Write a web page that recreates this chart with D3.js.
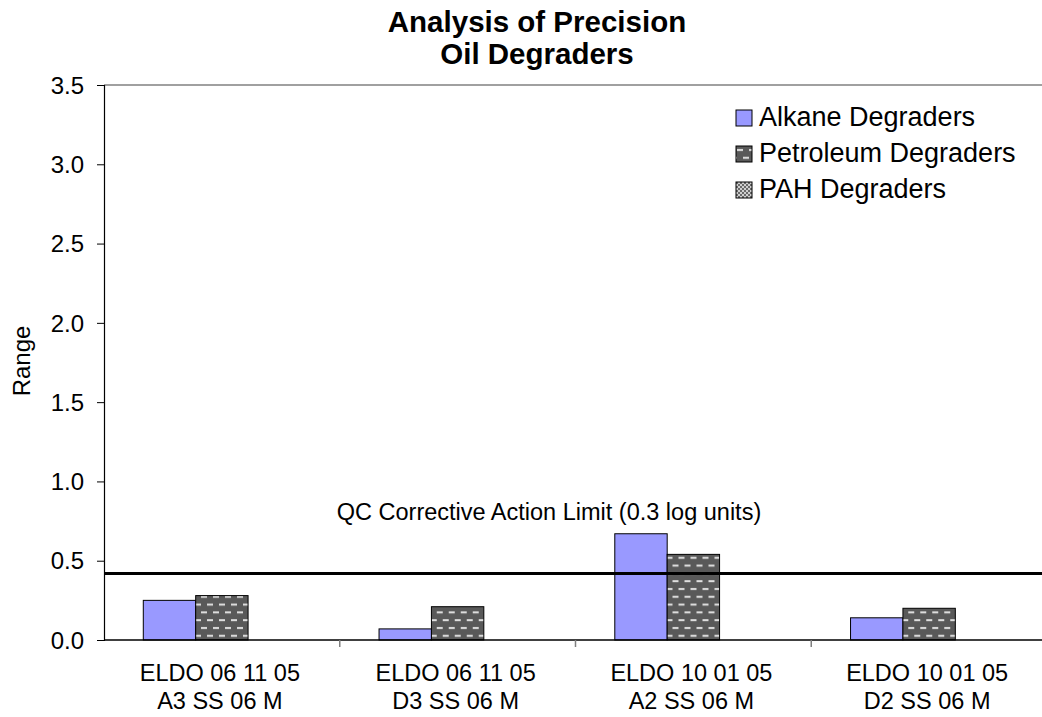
<!DOCTYPE html>
<html>
<head>
<meta charset="utf-8">
<script src="https://cdn.jsdelivr.net/npm/d3@7"></script>
<style>
  html, body { margin: 0; padding: 0; background: #fff; }
  svg { display: block; font-family: "Liberation Sans", Arial, sans-serif; }
</style>
</head>
<body>
<svg id="chart" width="1042" height="717"></svg>
<script>
// Sample categories (two label lines each)
const categories = [
  ["ELDO 06 11 05", "A3 SS 06 M"],
  ["ELDO 06 11 05", "D3 SS 06 M"],
  ["ELDO 10 01 05", "A2 SS 06 M"],
  ["ELDO 10 01 05", "D2 SS 06 M"]
];
const seriesNames = ["Alkane Degraders", "Petroleum Degraders", "PAH Degraders"];
const alkane = [0.25, 0.07, 0.67, 0.14];
const petroleum = [0.28, 0.21, 0.54, 0.20];
const pah = [0, 0, 0, 0];
const yTicks = [0, 0.5, 1.0, 1.5, 2.0, 2.5, 3.0, 3.5];
const limitValue = 0.42;
const limitLabel = "QC Corrective Action Limit (0.3 log units)";

const FONT = "Liberation Sans, Arial, sans-serif";
const svg = d3.select("#chart");
const plot = { left: 104, top: 85, right: 1047, bottom: 640 };

const x0 = d3.scaleBand()
  .domain(d3.range(categories.length))
  .range([plot.left, plot.right])
  .paddingInner(0).paddingOuter(0);
// gap width 150%: three bars plus 1.5 bar-widths of gap per category
const x1 = d3.scaleBand()
  .domain(d3.range(seriesNames.length))
  .range([0, x0.bandwidth()])
  .paddingInner(0)
  .paddingOuter(0.75);
const y = d3.scaleLinear().domain([0, 3.5]).range([plot.bottom, plot.top]);

// Fill patterns
const defs = svg.append("defs");
const pDash = defs.append("pattern")
  .attr("id", "dashes").attr("patternUnits", "userSpaceOnUse")
  .attr("width", 12).attr("height", 15.6);
pDash.append("rect").attr("width", 12).attr("height", 15.6).attr("fill", "#595959");
pDash.append("rect").attr("x", 1).attr("y", 3).attr("width", 6).attr("height", 2).attr("fill", "#e0e0e0");
pDash.append("rect").attr("x", 7).attr("y", 10.8).attr("width", 6).attr("height", 2).attr("fill", "#e0e0e0");
pDash.append("rect").attr("x", -5).attr("y", 10.8).attr("width", 6).attr("height", 2).attr("fill", "#e0e0e0");

const pCheck = defs.append("pattern")
  .attr("id", "checks").attr("patternUnits", "userSpaceOnUse")
  .attr("width", 4).attr("height", 4);
pCheck.append("rect").attr("width", 4).attr("height", 4).attr("fill", "#cfcfcf");
pCheck.append("rect").attr("width", 2).attr("height", 2).attr("fill", "#6a6a6a");
pCheck.append("rect").attr("x", 2).attr("y", 2).attr("width", 2).attr("height", 2).attr("fill", "#6a6a6a");

const fills = ["#9999ff", "url(#dashes)", "url(#checks)"];
const seriesValues = [alkane, petroleum, pah];

// Top border of the plot area
svg.append("line")
  .attr("x1", plot.left).attr("x2", plot.right)
  .attr("y1", y(3.5)).attr("y2", y(3.5))
  .attr("stroke", "#808080").attr("stroke-width", 1.5);

// Bars
const groups = svg.append("g").selectAll("g")
  .data(categories)
  .join("g")
  .attr("transform", (d, i) => `translate(${x0(i)},0)`);

groups.selectAll("rect")
  .data((d, i) => seriesValues.map((vals, s) => ({ s, v: vals[i] })).filter(e => e.v > 0))
  .join("rect")
  .attr("x", e => x1(e.s))
  .attr("width", x1.bandwidth())
  .attr("y", e => y(e.v))
  .attr("height", e => y(0) - y(e.v))
  .attr("fill", e => fills[e.s])
  .attr("stroke", "#000")
  .attr("stroke-width", 1);

// Y axis
const yAxis = d3.axisLeft(y).tickValues(yTicks).tickFormat(d3.format(".1f")).tickSize(7).tickPadding(13);
const gy = svg.append("g").attr("transform", `translate(${plot.left},0)`).call(yAxis)
  .attr("font-family", FONT).attr("font-size", 24);
gy.select(".domain").attr("stroke", "#000").attr("stroke-width", 1.2);
gy.selectAll(".tick line").attr("stroke", "#000");
gy.selectAll(".tick text").attr("fill", "#000").attr("dy", "0.34em");

// X axis baseline and category ticks
svg.append("line")
  .attr("x1", plot.left).attr("x2", plot.right)
  .attr("y1", y(0)).attr("y2", y(0))
  .attr("stroke", "#000").attr("stroke-width", 1.5);
svg.append("g").selectAll("line")
  .data(d3.range(1, categories.length))
  .join("line")
  .attr("x1", i => x0(i)).attr("x2", i => x0(i))
  .attr("y1", y(0)).attr("y2", y(0) + 7)
  .attr("stroke", "#7f7f7f").attr("stroke-width", 1.5);

// Category labels
svg.append("g").selectAll("text")
  .data(categories)
  .join("text")
  .attr("text-anchor", "middle")
  .attr("font-size", 23.5)
  .attr("fill", "#000")
  .each(function(d, i) {
    const t = d3.select(this);
    const cx = x0(i) + x0.bandwidth() / 2 - 2;
    d.forEach((line, k) => {
      t.append("tspan").attr("x", cx).attr("y", 681 + k * 27.5).text(line);
    });
  });

// QC limit line and its label
svg.append("line")
  .attr("x1", plot.left).attr("x2", plot.right)
  .attr("y1", y(limitValue)).attr("y2", y(limitValue))
  .attr("stroke", "#000").attr("stroke-width", 3);
svg.append("text")
  .attr("x", 549).attr("y", 520)
  .attr("text-anchor", "middle")
  .attr("font-size", 23.5)
  .attr("fill", "#000")
  .text(limitLabel);

// Title
const title = svg.append("text")
  .attr("text-anchor", "middle")
  .attr("font-size", 29.5)
  .attr("font-weight", "bold")
  .attr("fill", "#000");
title.append("tspan").attr("x", 537).attr("y", 32).text("Analysis of Precision");
title.append("tspan").attr("x", 537).attr("y", 64).text("Oil Degraders");

// Y axis title
svg.append("text")
  .attr("transform", `translate(30,361) rotate(-90)`)
  .attr("text-anchor", "middle")
  .attr("font-size", 24)
  .attr("fill", "#000")
  .text("Range");

// Legend
const legend = svg.append("g").selectAll("g")
  .data(seriesNames)
  .join("g")
  .attr("transform", (d, i) => `translate(736,${110 + i * 36})`);
legend.append("rect")
  .attr("width", 16).attr("height", 16)
  .attr("fill", (d, i) => fills[i])
  .attr("stroke", "#000").attr("stroke-width", 1);
legend.append("text")
  .attr("x", 23).attr("y", 16)
  .attr("font-size", 27)
  .attr("fill", "#000")
  .text(d => d);
</script>
</body>
</html>
